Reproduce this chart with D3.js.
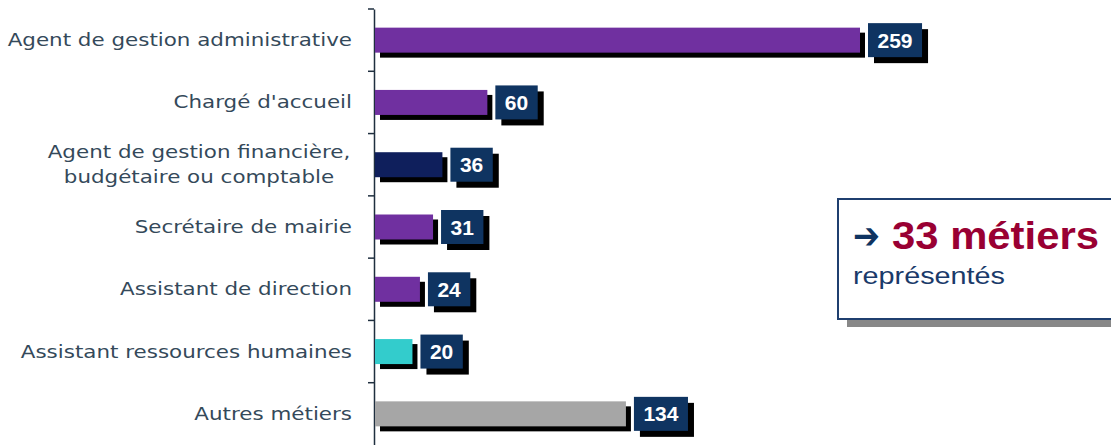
<!DOCTYPE html>
<html><head><meta charset="utf-8">
<script src="https://cdn.jsdelivr.net/npm/d3@7"></script>
<style>html,body{margin:0;padding:0;background:#fff;}svg{display:block;}</style>
</head><body>
<svg id="chart" width="1111" height="445"></svg>
<script>
const categories = [
  ["Agent de gestion administrative"],
  ["Chargé d'accueil"],
  ["Agent de gestion financière,", "budgétaire ou comptable"],
  ["Secrétaire de mairie"],
  ["Assistant de direction"],
  ["Assistant ressources humaines"],
  ["Autres métiers"]
];
const values = [259, 60, 36, 31, 24, 20, 134];
const barColors = ["#7030a0", "#7030a0", "#0f1f5c", "#7030a0", "#7030a0", "#33cccc", "#a6a6a6"];
const noteArrow = "➔";
const noteHeadline = "33 métiers";
const noteSub = "représentés";

const svg = d3.select("#chart");
const keys = categories.map(d => d.join(" "));
const axisX = 374;
const y = d3.scaleBand().domain(keys).range([9, 445]).padding(0);
const x = d3.scaleLinear().domain([0, 259]).range([axisX + 1, 860]);
const barH = 25;
const stretch = 1.26;

// axis
const axis = d3.axisLeft(y).tickSize(0).tickFormat("");
const ag = svg.append("g").attr("transform", `translate(${axisX},0)`).call(axis);
ag.select(".domain").attr("stroke", "#1f2f3f").attr("stroke-width", 1.5);
const bounds = keys.map(k => y(k));
ag.selectAll(".bt").data(bounds).join("line")
  .attr("x1", -6).attr("x2", 0).attr("y1", d => d).attr("y2", d => d)
  .attr("stroke", "#1f2f3f").attr("stroke-width", 1.5);

function widen(sel) {
  const w = sel.node().getComputedTextLength();
  sel.attr("textLength", w * stretch).attr("lengthAdjust", "spacingAndGlyphs");
}

// labels
const lab = svg.append("g");
categories.forEach((lines, i) => {
  const cy = y(keys[i]) + y.bandwidth() / 2;
  if (lines.length === 1) {
    const t = lab.append("text")
      .attr("font-family", "DejaVu Sans, Verdana, sans-serif")
      .attr("font-size", 17).attr("fill", "#34495a")
      .attr("x", 352).attr("y", cy + 6).attr("text-anchor", "end").text(lines[0]);
    widen(t);
  } else {
    lines.forEach((l, j) => {
      const t = lab.append("text")
        .attr("font-family", "DejaVu Sans, Verdana, sans-serif")
        .attr("font-size", 17).attr("fill", "#34495a")
        .attr("x", 199).attr("y", cy - 7 + j * 25)
        .attr("text-anchor", "middle").text(l);
      widen(t);
    });
  }
});

// bars
const g = svg.append("g");
values.forEach((v, i) => {
  const cy = y(keys[i]) + y.bandwidth() / 2;
  const x0 = x(0), x1 = x(v);
  g.append("rect").attr("x", x0 + 5).attr("y", cy - barH / 2 + 5)
    .attr("width", x1 - x0).attr("height", barH).attr("fill", "#000");
  g.append("rect").attr("x", x0).attr("y", cy - barH / 2)
    .attr("width", x1 - x0).attr("height", barH).attr("fill", barColors[i]);
  const tx = g.append("text").attr("font-family", "Liberation Sans, Arial, sans-serif")
    .attr("font-weight", "bold").attr("font-size", 21).attr("fill", "#fff")
    .attr("text-anchor", "middle").text(v);
  const tw = tx.node().getComputedTextLength();
  const bw = tw + 19, bh = 34, bx = x1 + 8, by = cy - bh / 2;
  g.insert("rect", () => tx.node()).attr("x", bx + 6).attr("y", by + 6).attr("width", bw).attr("height", bh).attr("fill", "#000");
  g.insert("rect", () => tx.node()).attr("x", bx).attr("y", by).attr("width", bw).attr("height", bh).attr("fill", "#0f3461");
  tx.attr("x", bx + bw / 2).attr("y", cy + 7.5);
});

// note box
const n = svg.append("g");
n.append("rect").attr("x", 847).attr("y", 207).attr("width", 300).attr("height", 120).attr("fill", "#888");
n.append("rect").attr("x", 838).attr("y", 199).attr("width", 300).attr("height", 120)
  .attr("fill", "#fff").attr("stroke", "#1f3f6f").attr("stroke-width", 2);
n.append("text").attr("x", 853).attr("y", 248).attr("font-family", "DejaVu Sans, sans-serif")
  .attr("font-weight", "bold").attr("font-size", 36).attr("fill", "#0f3461")
  .attr("textLength", 27).attr("lengthAdjust", "spacingAndGlyphs").text(noteArrow);
n.append("text").attr("x", 892).attr("y", 249).attr("font-family", "Liberation Sans, Arial, sans-serif")
  .attr("font-weight", "bold").attr("font-size", 39).attr("fill", "#990033")
  .attr("textLength", 207).attr("lengthAdjust", "spacingAndGlyphs").text(noteHeadline);
n.append("text").attr("x", 853).attr("y", 284).attr("font-family", "Liberation Sans, Arial, sans-serif")
  .attr("font-size", 23).attr("fill", "#1a3a6a")
  .attr("textLength", 152).attr("lengthAdjust", "spacingAndGlyphs").text(noteSub);
</script>
</body></html>
